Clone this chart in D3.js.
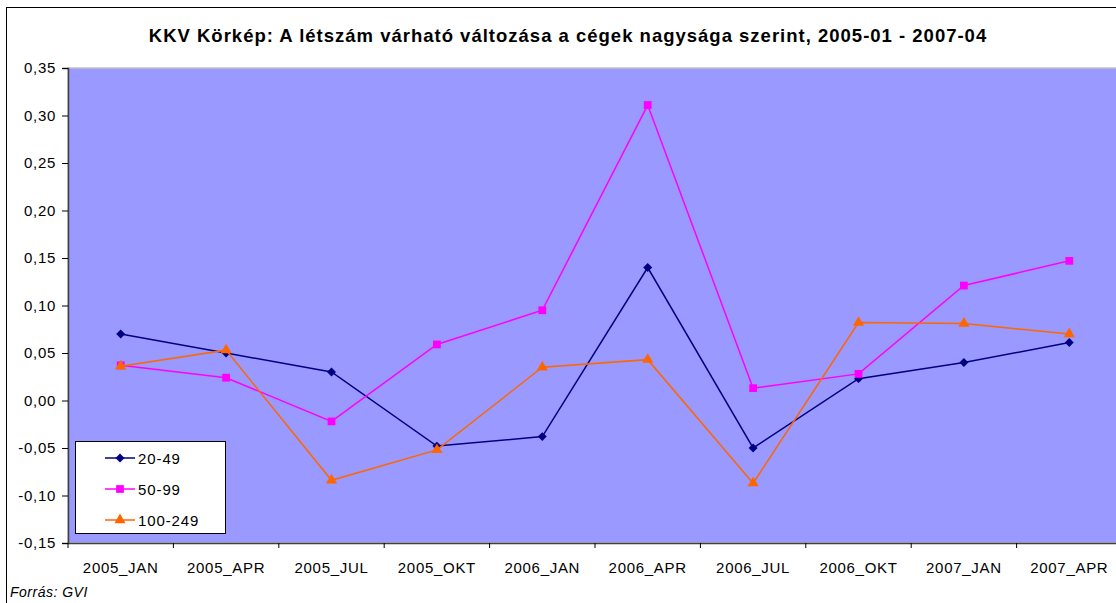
<!DOCTYPE html>
<html>
<head>
<meta charset="utf-8">
<script src="https://cdn.jsdelivr.net/npm/d3@7"></script>
<style>
    body { margin: 0; background: #fff; }
    text { font-family: "Liberation Sans", Arial, sans-serif; fill: #000; }
</style>
</head>
<body>
<div id="chart"></div>
<script>
// Data
const categories = ["2005_JAN", "2005_APR", "2005_JUL", "2005_OKT", "2006_JAN",
                    "2006_APR", "2006_JUL", "2006_OKT", "2007_JAN", "2007_APR"];
const seriesNames = ["20-49", "50-99", "100-249"];
const values2049 = [0.070, 0.050, 0.030, -0.048, -0.038, 0.140, -0.050, 0.023, 0.040, 0.061];
const values5099 = [0.037, 0.024, -0.022, 0.059, 0.095, 0.311, 0.013, 0.028, 0.121, 0.147];
const values100249 = [0.036, 0.053, -0.084, -0.052, 0.035, 0.043, -0.087, 0.082, 0.081, 0.070];
const yTicks = [-0.15, -0.10, -0.05, 0.00, 0.05, 0.10, 0.15, 0.20, 0.25, 0.30, 0.35];
const titleText = "KKV Körkép: A létszám várható változása a cégek nagysága szerint, 2005-01 - 2007-04";
const sourceText = "Forrás: GVI";

// diamond = square turned 45 degrees
const series = [
    { name: seriesNames[0], values: values2049, color: "#000080", symbol: d3.symbolSquare, size: 40, rotate: 45 },
    { name: seriesNames[1], values: values5099, color: "#ff00ff", symbol: d3.symbolSquare, size: 60, rotate: 0 },
    { name: seriesNames[2], values: values100249, color: "#ff6600", symbol: d3.symbolTriangle, size: 54, rotate: 0 }
];

const width = 1116, height = 603;
const plot = { left: 68, top: 68, right: 1122, bottom: 543 };

const svg = d3.select("#chart").append("svg")
    .attr("width", width)
    .attr("height", height);

// Outer chart border (right / bottom edges fall outside the picture)
svg.append("rect")
    .attr("x", 6.5).attr("y", 7.5)
    .attr("width", 1130).attr("height", 620)
    .attr("fill", "#fff")
    .attr("stroke", "#000");

// Scales
const x = d3.scaleBand()
    .domain(categories)
    .range([plot.left, plot.right]);
const y = d3.scaleLinear()
    .domain([-0.15, 0.35])
    .range([plot.bottom, plot.top]);

// Plot area
svg.append("rect")
    .attr("x", plot.left).attr("y", plot.top)
    .attr("width", plot.right - plot.left).attr("height", plot.bottom - plot.top)
    .attr("fill", "#9999ff")
    .attr("stroke", "#c0c0c0")
    .attr("stroke-width", 1.5);

// Title
svg.append("text")
    .attr("x", 568).attr("y", 42)
    .attr("text-anchor", "middle")
    .style("font-size", "18.5px")
    .style("font-weight", "bold")
    .style("letter-spacing", "1px")
    .text(titleText);

// Y axis
const fmt = v => d3.format(".2f")(v).replace(".", ",").replace("−", "-");
const yAxis = svg.append("g")
    .attr("transform", `translate(${plot.left},0)`)
    .call(d3.axisLeft(y).tickValues(yTicks).tickSize(6).tickPadding(6).tickFormat(fmt));
yAxis.select(".domain").attr("stroke", "#404040").attr("stroke-width", 1.5);
yAxis.selectAll(".tick line").attr("stroke", "#000");
yAxis.selectAll(".tick text")
    .style("font-size", "15px")
    .style("letter-spacing", "0.7px")
    .style("font-family", "Liberation Sans, Arial, sans-serif");

// X axis
const xAxis = svg.append("g")
    .attr("transform", `translate(0,${plot.bottom})`)
    .call(d3.axisBottom(x).tickSize(0).tickPadding(19));
xAxis.select(".domain").attr("stroke", "#404040").attr("stroke-width", 1.5);
xAxis.selectAll(".tick text")
    .style("font-size", "15px")
    .style("letter-spacing", "0.7px")
    .style("font-family", "Liberation Sans, Arial, sans-serif");
// Category separator ticks
svg.append("g")
    .selectAll("line")
    .data(categories)
    .enter()
    .append("line")
        .attr("x1", d => x(d))
        .attr("x2", d => x(d))
        .attr("y1", plot.bottom)
        .attr("y2", plot.bottom + 5)
        .attr("stroke", "#000");

// Lines and markers
const line = d3.line()
    .x((d, i) => x(categories[i]) + x.bandwidth() / 2)
    .y(d => y(d));

series.forEach(s => {
    svg.append("path")
        .datum(s.values)
        .attr("fill", "none")
        .attr("stroke", s.color)
        .attr("stroke-width", 1.5)
        .attr("d", line);

    svg.append("g")
        .selectAll("path")
        .data(s.values)
        .enter()
        .append("path")
            .attr("d", d3.symbol().type(s.symbol).size(s.size))
            .attr("transform", (d, i) => `translate(${x(categories[i]) + x.bandwidth() / 2},${y(d)}) rotate(${s.rotate})`)
            .attr("fill", s.color);
});

// Legend
const legend = svg.append("g");
legend.append("rect")
    .attr("x", 75.5).attr("y", 441.5)
    .attr("width", 150).attr("height", 92)
    .attr("fill", "#fff")
    .attr("stroke", "#000");

const rows = legend.selectAll("g.row")
    .data(series)
    .enter()
    .append("g")
        .attr("class", "row")
        .attr("transform", (d, i) => `translate(0,${458 + i * 31})`);
rows.append("line")
    .attr("x1", 105).attr("x2", 135)
    .attr("stroke", d => d.color)
    .attr("stroke-width", 1.5);
rows.append("path")
    .attr("d", d => d3.symbol().type(d.symbol).size(d.size)())
    .attr("transform", d => `translate(120,0) rotate(${d.rotate})`)
    .attr("fill", d => d.color);
rows.append("text")
    .attr("x", 138).attr("y", 5.5)
    .style("font-size", "15px")
    .style("letter-spacing", "0.9px")
    .text(d => d.name);

// Source note
svg.append("text")
    .attr("x", 10).attr("y", 597)
    .style("font-size", "14px")
    .style("font-style", "italic")
    .style("letter-spacing", "0.5px")
    .text(sourceText);
</script>
</body>
</html>
